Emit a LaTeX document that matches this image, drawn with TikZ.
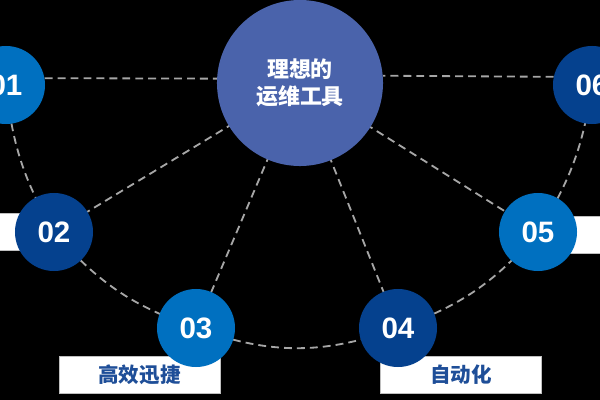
\documentclass[tikz,border=0pt]{standalone}
\usepackage{fontspec}
\setmainfont{Liberation Sans}
\newfontfamily\cjk{Noto Sans CJK SC}
\definecolor{hubblue}{HTML}{4A63AB}
\definecolor{brightblue}{HTML}{0070C0}
\definecolor{darkblue}{HTML}{05418E}
\definecolor{txtblue}{HTML}{1E4E98}
\definecolor{dashgray}{HTML}{A6A6A6}
\pgfdeclarelayer{bg}
\pgfdeclarelayer{lines}
\pgfsetlayers{bg,lines,main}
\begin{document}
\begin{tikzpicture}[x=0.025cm,y=-0.025cm,
  hub/.style={circle,fill=hubblue,minimum size=4.15cm,inner sep=0pt,text=white,
    font=\cjk\bfseries\fontsize{15.6}{19.5}\selectfont,align=center},
  numcirc/.style={circle,fill=#1,minimum size=1.95cm,inner sep=0pt,text=white,
    font=\bfseries\fontsize{21}{24}\selectfont},
  labelbox/.style={rectangle,fill=white,draw=gray!50,line width=0.4pt,
    minimum width=4.025cm,minimum height=0.92cm,inner sep=0pt,text=txtblue,
    font=\cjk\bfseries\fontsize{14.6}{17}\selectfont},
  link/.style={draw=dashgray,line width=1.3pt,dash pattern=on 5.6pt off 3.6pt}]
\begin{pgfonlayer}{bg}
  \fill[black] (0,0) rectangle (600,400);
\end{pgfonlayer}
\useasboundingbox (0,0) rectangle (600,400);

% label boxes
\node[labelbox] (b2) at (-26.5,231.5) {};
\node[labelbox] (b3) at (139.5,375) {高效迅捷};
\node[labelbox] (b4) at (461,374.5) {自动化};
\node[labelbox] (b5) at (618.5,234.5) {};

% hub
\node[hub] (c) at (300,83) {理想的\\运维工具};

% numbered circles
\node[numcirc=brightblue] (n1) at (6,85) {01};
\node[numcirc=darkblue] (n2) at (54,232) {02};
\node[numcirc=brightblue] (n3) at (196,328) {03};
\node[numcirc=darkblue] (n4) at (398,328) {04};
\node[numcirc=brightblue] (n5) at (538,232) {05};
\node[numcirc=darkblue] (n6) at (592,85) {06};

\begin{pgfonlayer}{lines}
  \draw[link] (n1.10) -- (c.177);
  \draw[link] (n6.168) -- (c.5);
  \draw[link] (c.center) -- (n2.center);
  \draw[link] (c.center) -- (n3.center);
  \draw[link] (c.center) -- (n4.center);
  \draw[link] (c.center) -- (n5.center);
  \draw[link] (n1.center) to[bend right=12] (n2.center);
  \draw[link] (n2.center) to[bend right=15] (n3.center);
  \draw[link] (n3.center) to[bend right=20] (n4.center);
  \draw[link] (n4.center) to[bend right=15] (n5.center);
  \draw[link] (n5.center) to[bend right=12] (n6.center);
\end{pgfonlayer}
\end{tikzpicture}
\end{document}
